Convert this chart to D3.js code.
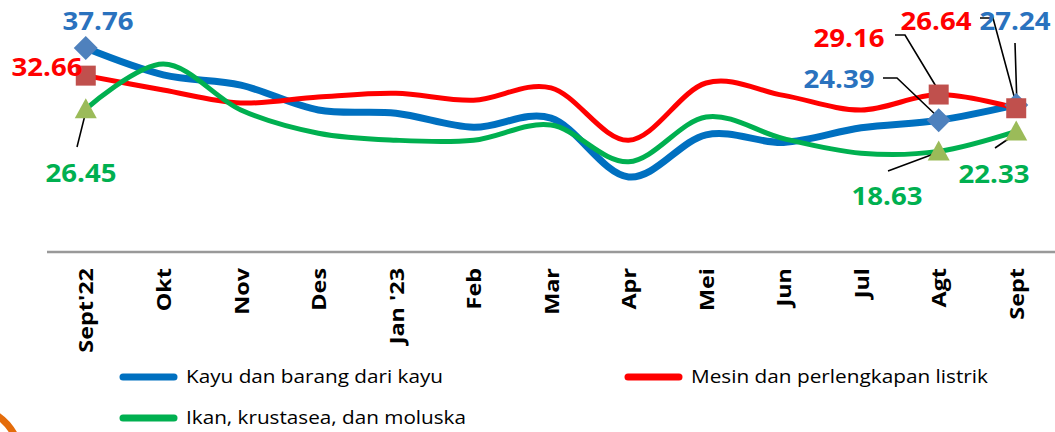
<!DOCTYPE html>
<html><head><meta charset="utf-8">
<script src="https://cdn.jsdelivr.net/npm/d3@7"></script>
<style>html,body{margin:0;padding:0;background:#fff;overflow:hidden}</style>
</head><body><svg id="c" width="1055" height="432"></svg>
<script>
const categories = ["Sept'22","Okt","Nov","Des","Jan '23","Feb","Mar","Apr","Mei","Jun","Jul","Agt","Sept"];
const kayu  = [37.76, 32.8, 30.9, 26.3, 25.7, 23.1, 24.8, 13.9, 21.7, 20.3, 23.0, 24.39, 27.24];
const mesin = [32.66, 30.0, 27.6, 28.7, 29.4, 28.1, 30.4, 20.7, 31.3, 29.0, 26.3, 29.16, 26.64];
const ikan  = [26.45, 34.8, 26.3, 22.0, 20.7, 20.7, 23.5, 16.7, 25.0, 21.0, 18.3, 18.63, 22.33];
const seriesNames = ["Kayu dan barang dari kayu","Mesin dan perlengkapan listrik","Ikan, krustasea, dan moluska"];
const labelled = [0, 11, 12];

const svg = d3.select("#c");
const x = d3.scalePoint().domain(categories).range([47, 1055]).padding(0.5);
const y = d3.scaleLinear().domain([0, 40]).range([252, 36]);

const series = [
  {name: seriesNames[0], values: kayu,  color: "#0070C0", width: 7, marker: "diamond", mcolor: "#4F81BD", tcolor: "#2A72BE"},
  {name: seriesNames[1], values: mesin, color: "#FF0000", width: 5, marker: "square",  mcolor: "#C0504D", tcolor: "#FF0000"},
  {name: seriesNames[2], values: ikan,  color: "#00B050", width: 5, marker: "triangle",mcolor: "#9BBB59", tcolor: "#00B050"}
];

// decorative orange arc bottom-left
svg.append("path").attr("d","M -2 416 Q 8 423 14 434").attr("fill","none").attr("stroke","#E46C0A").attr("stroke-width",7);

// axis
const axis = svg.append("g").attr("transform","translate(0,252)")
  .call(d3.axisBottom(x).tickSize(0).tickPadding(0));
axis.select(".domain").attr("stroke","#999").attr("stroke-width",2.5).attr("d","M47,0H1055");
axis.selectAll(".tick text")
  .attr("transform","rotate(-90)")
  .attr("x",-16).attr("y",0).attr("dy","0.36em")
  .attr("text-anchor","end")
  .attr("font-family","Open Sans").attr("font-weight",700).attr("font-size",20).attr("fill","#000")
  .each(function(){
    const w = this.getComputedTextLength();
    d3.select(this).attr("textLength", w*1.17).attr("lengthAdjust","spacingAndGlyphs");
  });

const line = d3.line().x((d,i)=>x(categories[i])).y(d=>y(d)).curve(d3.curveCardinal.tension(0));
series.forEach(s=>{
  svg.append("path").datum(s.values).attr("d",line).attr("fill","none")
    .attr("stroke",s.color).attr("stroke-width",s.width).attr("stroke-linecap","round").attr("stroke-linejoin","round");
});

// leader lines
const leaders = [
  [[77,147],[86,111]],
  [[883,78],[897,78],[939,118]],
  [[895,35],[905,35],[940,93]],
  [[1015,43],[1017,107]],
  [[980,18],[993,18],[1017,107]],
  [[995,148],[1017,133]],
  [[888,171],[939,152]]
];
leaders.forEach(p=>{
  svg.append("path").attr("d",d3.line()(p)).attr("fill","none").attr("stroke","#000").attr("stroke-width",1.6);
});

// markers
series.forEach(s=>{
  labelled.forEach(i=>{
    const cx = x(categories[i]), cy = y(s.values[i]);
    let d;
    if (s.marker==="diamond") d = `M${cx},${cy-12}L${cx+12},${cy}L${cx},${cy+12}L${cx-12},${cy}Z`;
    else if (s.marker==="square") d = `M${cx-10},${cy-10}h20v20h-20Z`;
    else d = `M${cx},${cy-11}L${cx+11},${cy+9}L${cx-11},${cy+9}Z`;
    svg.append("path").attr("d",d).attr("fill",s.mcolor);
  });
});

// data labels [series, index, cx, baseline]
const labelPos = [
  [0,0,98,30],[1,0,47,76],[2,0,81,182],
  [0,11,839,88],[1,11,849,47],[2,11,887,205],
  [0,12,1015,30],[1,12,936,30],[2,12,994,183]
];
labelPos.forEach(([si,i,cx,by])=>{
  const s = series[si];
  svg.append("text").attr("x",cx).attr("y",by).attr("text-anchor","middle")
    .attr("font-family","Open Sans").attr("font-weight",700).attr("font-size",25)
    .attr("fill",s.tcolor).attr("textLength",71).attr("lengthAdjust","spacingAndGlyphs")
    .text(s.values[i].toFixed(2));
});

// legend
const leg = [
  {s:0, x:120, y:377, tl:257},
  {s:1, x:625, y:377, tl:297},
  {s:2, x:120, y:418, tl:280}
];
leg.forEach(l=>{
  const s = series[l.s];
  svg.append("line").attr("x1",l.x+3).attr("x2",l.x+54).attr("y1",l.y).attr("y2",l.y)
    .attr("stroke",s.color).attr("stroke-width",7).attr("stroke-linecap","round");
  svg.append("text").attr("x",l.x+66).attr("y",l.y+6).attr("font-family","Open Sans").attr("font-size",18)
    .attr("fill","#000").attr("textLength",l.tl).attr("lengthAdjust","spacingAndGlyphs").text(s.name);
});
</script></body></html>
